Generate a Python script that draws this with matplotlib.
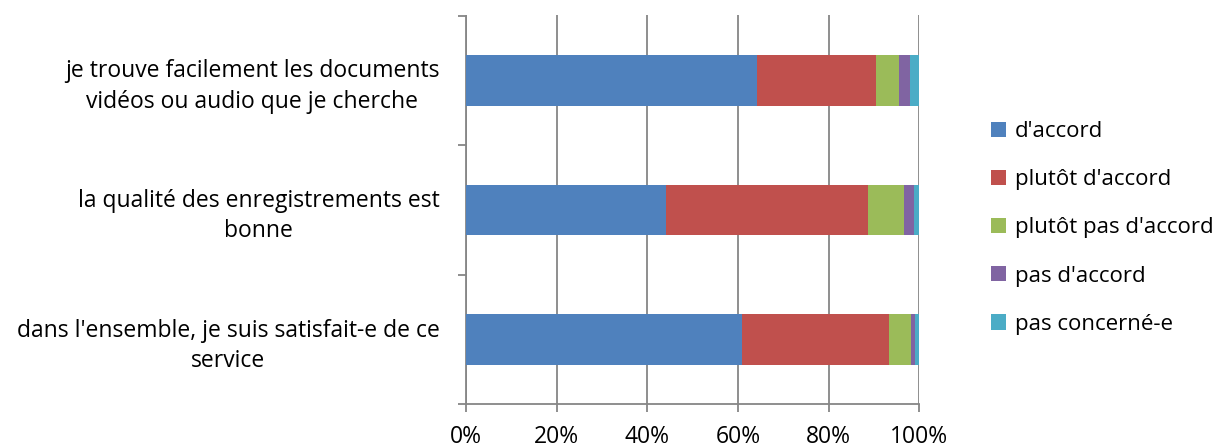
import numpy as np
import matplotlib.pyplot as plt
from matplotlib.patches import Patch

plt.rcParams['font.family'] = ['Open Sans', 'DejaVu Sans']

questions = ["je trouve facilement les documents\nvidéos ou audio que je cherche",
             "la qualité des enregistrements est\nbonne",
             "dans l'ensemble, je suis satisfait-e de ce\nservice"]
answers = ["d'accord", "plutôt d'accord", "plutôt pas d'accord", "pas d'accord", "pas concerné-e"]
colors = ['#4F81BD', '#C0504D', '#9BBB59', '#8064A2', '#4BACC6']

# share of answers (%) per question, in the order of `answers`
d_accord = [64.3, 44.2, 60.9]
plutot_d_accord = [26.1, 44.5, 32.5]
plutot_pas = [5.1, 7.9, 4.8]
pas_d_accord = [2.4, 2.2, 0.8]
pas_concerne = [2.1, 1.2, 1.0]

series = [d_accord, plutot_d_accord, plutot_pas, pas_d_accord, pas_concerne]

W, H = 1223, 448
fs = 16.5
fig = plt.figure(figsize=(W/100, H/100), dpi=100)
ax = fig.add_axes([466/W, (H-404.3)/H, (919.3-466)/W, (404.3-15.5)/H])

yy = np.arange(len(questions))
left = np.zeros(len(questions))
for vals, col in zip(series, colors):
    vals = np.array(vals)
    ax.barh(yy, vals, left=left, height=0.39, color=col, zorder=3)
    left += vals

grid_col = '#868686'
ax.set_xlim(0, 100)
ax.set_ylim(len(questions)-0.5, -0.5)
ax.set_xticks(np.arange(0, 101, 20))
ax.set_xticklabels([f'{v}%' for v in range(0, 101, 20)], fontsize=fs)
ax.xaxis.grid(True, color=grid_col, linewidth=1.3, zorder=0)
ax.tick_params(axis='x', length=6, width=1.3, color=grid_col, pad=9)

ax.set_yticks(yy)
ax.set_yticklabels(questions, fontsize=fs, ha='right', multialignment='center',
                   linespacing=1.35)
ax.tick_params(axis='y', length=0, pad=19)
ax.set_yticks(np.arange(-0.5, len(questions), 1), minor=True)
ax.tick_params(axis='y', which='minor', length=6, width=1.3, color=grid_col)

for s in ['top', 'right']:
    ax.spines[s].set_visible(False)
for s in ['left', 'bottom']:
    ax.spines[s].set_color(grid_col)
    ax.spines[s].set_linewidth(1.3)

handles = [Patch(facecolor=c, label=a) for a, c in zip(answers, colors)]
fig.legend(handles=handles, loc='center left', bbox_to_anchor=(980/W, 1 - 228/H),
           frameon=False, fontsize=16, handlelength=0.68, handleheight=0.68,
           handletextpad=0.4, labelspacing=1.22, borderpad=0)

fig.savefig('out.png', dpi=100)
